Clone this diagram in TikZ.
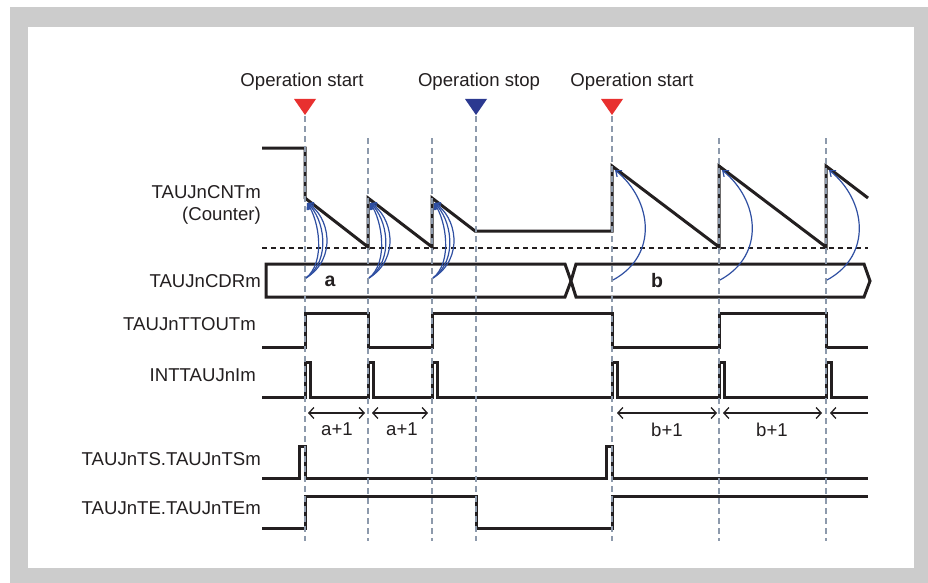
\documentclass[tikz,border=0pt]{standalone}
\usepackage{fontspec}
\setmainfont{Liberation Sans}
\usetikzlibrary{arrows.meta}
\definecolor{framegray}{HTML}{CCCCCC}
\definecolor{guide}{HTML}{8D9AAC}
\definecolor{arrblue}{HTML}{2F4FA2}
\definecolor{trired}{HTML}{E8302F}
\definecolor{triblue}{HTML}{2B3990}
\definecolor{ink}{HTML}{231F20}
\tikzset{
  sig/.style={line width=3pt, line join=miter, draw=ink},
  bus/.style={line width=3pt, line join=miter, draw=ink, fill=white},
  guideline/.style={draw=guide, line width=1.3pt, dash pattern=on 6pt off 4pt},
  thresh/.style={draw=ink, line width=1.5pt, dash pattern=on 5pt off 4pt},
  blu/.style={draw=arrblue, line width=1.2pt, -{Straight Barb[length=5pt,width=8pt]}},
  dim/.style={draw=ink, line width=1.3pt},
  lbl/.style={anchor=east, inner sep=0pt, text=ink},
  toplbl/.style={inner sep=0pt, text=ink},
  tri/.style={line width=0pt}
}
\begin{document}
\begin{tikzpicture}[x=1pt,y=-1pt,font=\fontsize{18.6}{22}\selectfont]
\useasboundingbox (0,0) rectangle (928,583);
\fill[framegray] (10,7) rectangle (928,583);
\fill[white] (28,27) rectangle (914,568);

% event labels
\node[toplbl] (ev1) at (302,82) {Operation start};
\node[toplbl] (ev2) at (479,82) {Operation stop};
\node[toplbl] (ev3) at (632,82) {Operation start};

% triangles
\fill[trired] (294,99) -- (316,99) -- (305,115) -- cycle;
\fill[triblue] (465,99) -- (487,99) -- (476,115) -- cycle;
\fill[trired] (601,99) -- (623,99) -- (612,115) -- cycle;

% signal names
\node[lbl] (ncnt) at (261,192) {TAUJnCNTm};
\node[lbl] (ncntb) at (261,216) {(Counter)};
\node[lbl] (ncdr) at (261,281) {TAUJnCDRm};
\node[lbl] (ntto) at (256,324) {TAUJnTTOUTm};
\node[lbl] (nint) at (256,375) {INTTAUJnIm};
\node[lbl] (nts) at (261,459) {TAUJnTS.TAUJnTSm};
\node[lbl] (nte) at (261,508) {TAUJnTE.TAUJnTEm};

% threshold
\draw[thresh] (262,248) -- (868,248);

% counter
\draw[sig] (262,148) -- (305,148) -- (305,198) -- (368,247) -- (368,198) -- (432,247)
  -- (432,198) -- (475,231) -- (612,231) -- (612,166) -- (719,247) -- (719,166)
  -- (826,247) -- (826,166) -- (868,198);

% CDR bus
\draw[bus] (266,264) -- (565,264) -- (571,281) -- (565,297) -- (266,297) -- cycle;
\draw[bus] (576,264) -- (864,264) -- (870,281) -- (864,297) -- (576,297) -- (571,281) -- cycle;
\node[font=\fontsize{19.5}{22}\selectfont\bfseries, text=ink] (va) at (330,281) {a};
\node[font=\fontsize{19.5}{22}\selectfont\bfseries, text=ink] (vb) at (657,281) {b};

% TTOUT
\draw[sig] (262,347) -- (305,347) -- (305,313) -- (368,313) -- (368,347) -- (432,347)
  -- (432,313) -- (612,313) -- (612,347) -- (719,347) -- (719,313) -- (826,313)
  -- (826,347) -- (868,347);

% INT
\draw[sig] (262,397) -- (305,397) -- (305,362) -- (310,362) -- (310,397)
  -- (368,397) -- (368,362) -- (373,362) -- (373,397)
  -- (432,397) -- (432,362) -- (437,362) -- (437,397)
  -- (612,397) -- (612,362) -- (617,362) -- (617,397)
  -- (719,397) -- (719,362) -- (724,362) -- (724,397)
  -- (826,397) -- (826,362) -- (831,362) -- (831,397) -- (868,397);

% TS
\draw[sig] (262,478) -- (299,478) -- (299,446) -- (305,446) -- (305,478)
  -- (606,478) -- (606,446) -- (612,446) -- (612,478) -- (868,478);

% TE
\draw[sig] (262,528) -- (305,528) -- (305,496) -- (476,496) -- (476,528)
  -- (612,528) -- (612,496) -- (868,496);

% guide lines
\draw[guideline] (305,116) -- (305,541);
\draw[guideline] (368,138) -- (368,541);
\draw[guideline] (432,138) -- (432,541);
\draw[guideline] (476,116) -- (476,541);
\draw[guideline] (612,116) -- (612,541);
\draw[guideline] (719,138) -- (719,541);
\draw[guideline] (826,138) -- (826,541);

% blue reload arrows
\foreach \t in {305,368,432}{
  \coordinate (s\t) at (\t+1,278);
  \coordinate (e\t) at (\t+2,203);
  \draw[blu] (s\t) .. controls (\t+21,262) and (\t+14,220) .. (e\t);
  \draw[blu] (s\t) .. controls (\t+27,260) and (\t+19,218) .. (e\t);
  \draw[blu] (s\t) .. controls (\t+33,258) and (\t+24,216) .. (e\t);
}
\foreach \t in {612,719,826}{
  \coordinate (s\t) at (\t+1,280);
  \coordinate (e\t) at (\t+3,170);
  \draw[blu] (s\t) .. controls (\t+47,255) and (\t+40,200) .. (e\t);
}

% dimension arrows
\coordinate (a1l) at (308,413); \coordinate (a1r) at (365,413);
\coordinate (a2l) at (372,413); \coordinate (a2r) at (428,413);
\coordinate (b1l) at (617,413); \coordinate (b1r) at (717,413);
\coordinate (b2l) at (723,413); \coordinate (b2r) at (822,413);
\coordinate (b3l) at (830,413); \coordinate (b3r) at (868,413);
\draw[dim, {Straight Barb[length=5pt,width=11pt]}-{Straight Barb[length=5pt,width=11pt]}] (a1l) -- (a1r);
\draw[dim, {Straight Barb[length=5pt,width=11pt]}-{Straight Barb[length=5pt,width=11pt]}] (a2l) -- (a2r);
\draw[dim, {Straight Barb[length=5pt,width=11pt]}-{Straight Barb[length=5pt,width=11pt]}] (b1l) -- (b1r);
\draw[dim, {Straight Barb[length=5pt,width=11pt]}-{Straight Barb[length=5pt,width=11pt]}] (b2l) -- (b2r);
\draw[dim, {Straight Barb[length=5pt,width=11pt]}-] (b3l) -- (b3r);
\node[toplbl] (la1) at (337,429) {a+1};
\node[toplbl] (la2) at (402,429) {a+1};
\node[toplbl] (lb1) at (667,430) {b+1};
\node[toplbl] (lb2) at (772,430) {b+1};
\end{tikzpicture}
\end{document}
